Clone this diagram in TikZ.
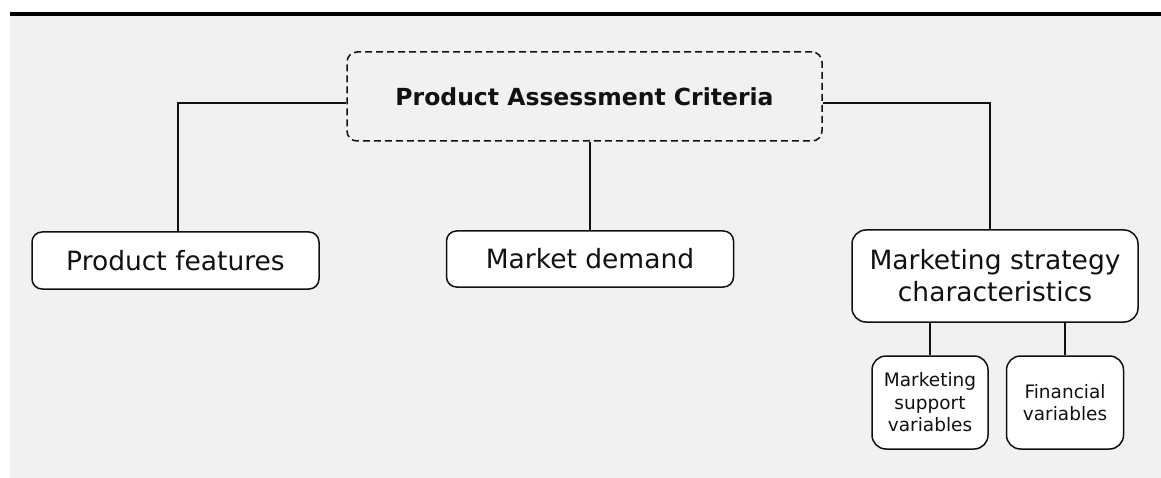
\documentclass[tikz,border=0pt]{standalone}
\usepackage{fontspec}
\setmainfont{DejaVu Sans}
\definecolor{bgray}{HTML}{F1F1F1}
\definecolor{ink}{HTML}{111111}
\begin{document}
\begin{tikzpicture}[x=1pt,y=-1pt,
  box/.style={draw=ink,line width=1.5pt,fill=white,rounded corners=10pt,align=center,inner sep=0pt,text=ink},
  bigtext/.style={font=\fontsize{26.5}{32}\selectfont},
  smalltext/.style={font=\fontsize{18.5}{22.5}\selectfont},
  conn/.style={draw=ink,line width=1.6pt}]
\useasboundingbox (0,0) rectangle (1161,478);
\fill[white] (0,0) rectangle (1161,478);
\fill[bgray] (10,16) rectangle (1161,478);
\fill[black] (10,12) rectangle (1161,16.5);
\node[box,fill=bgray,dash pattern=on 7pt off 4pt,minimum width=475pt,minimum height=89pt,font=\fontsize{23.5}{28}\selectfont\bfseries] (title) at (584.5,96.5) {Product Assessment Criteria};
\node[box,bigtext,minimum width=287pt,minimum height=57pt] (pf) at (175.5,260.5) {Product features};
\node[box,bigtext,minimum width=287pt,minimum height=56pt] (md) at (590,259) {Market demand};
\node[box,bigtext,minimum width=286pt,minimum height=92pt,rounded corners=14pt] (ms) at (995,276) {Marketing strategy\\characteristics};
\node[box,smalltext,minimum width=116pt,minimum height=93pt,rounded corners=14pt] (sv) at (930,402.5) {Marketing\\support\\variables};
\node[box,smalltext,minimum width=117pt,minimum height=93pt,rounded corners=14pt] (fv) at (1065,402.5) {Financial\\variables};
\coordinate (jl) at (178,103);
\coordinate (jr) at (990,103);
\draw[conn] (title.west |- jl) -- (jl) -- (jl |- pf.north);
\draw[conn] (title.east |- jr) -- (jr) -- (jr |- ms.north);
\draw[conn] (md.north) -- (md.north |- title.south);
\draw[conn] (sv.north) -- (sv.north |- ms.south);
\draw[conn] (fv.north) -- (fv.north |- ms.south);
\end{tikzpicture}
\end{document}
